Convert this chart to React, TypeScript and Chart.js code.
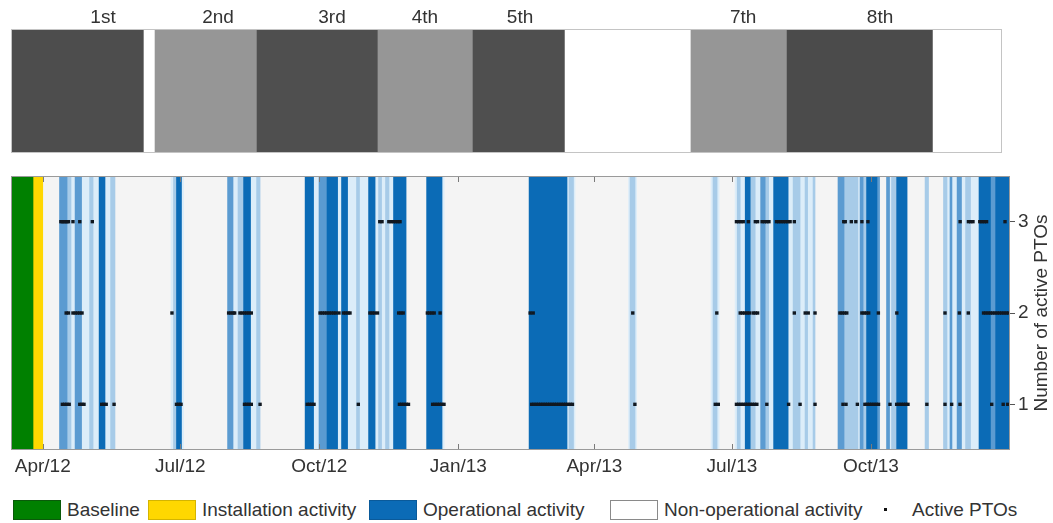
import React, { useEffect, useRef } from 'react';
import { Chart, registerables } from 'chart.js';

Chart.register(...registerables);

const FONT = '"Liberation Sans", Arial, Helvetica, sans-serif';
const TEXT = '#333333';

// time axis in days since 1 Apr 2012
const dayMin = -21;
const dayMax = 640;
const tickDays = [0, 91, 183, 275, 365, 456, 548];
const tickLabels = ['Apr/12', 'Jul/12', 'Oct/12', 'Jan/13', 'Apr/13', 'Jul/13', 'Oct/13'];

// top panel: deployments
const deployMax = 634.7;
const deployStart = [-21, 67.0, 74.3, 141.8, 221.8, 284.7, 345.6, 428.9, 492.5, 589.1];
const deployEnd = [67.0, 74.3, 141.8, 221.8, 284.7, 345.6, 428.9, 492.5, 589.1, 634.7];
const deployShade = ['#4d4d4d', '#ffffff', '#969696', '#4f4f4f', '#969696', '#4f4f4f', '#ffffff', '#969696', '#4b4b4b', '#ffffff'];
const deployLabels = ['1st', '2nd', '3rd', '4th', '5th', '7th', '8th'];
const deployLabelDays = [39.9, 116, 191.4, 252.9, 315.8, 463.4, 554];

// bottom panel: activity bands [start, end] in days
const baselineBands = [[-21, -6]];
const installBands = [[-6, 0]];
const nonOpBands = [[-21, 640]];
const darkBands = [[37.3, 41.2], [88.5, 91.8], [132.9, 137.5], [173.6, 179.2], [188.1, 195.1], [197.7, 201.7], [215.6, 219.9], [232.1, 240.4], [254.0, 264.2], [321.8, 346.9], [464.8, 468.1], [483.6, 493.2], [545.1, 552.0], [565.0, 571.9], [619.5, 627.1], [630.5, 640]];
const midBands = [[11.1, 16.1], [21.4, 25.7], [122.3, 125.9], [182.8, 188.1], [475.0, 478.0], [526.2, 530.2], [540.8, 542.8], [552.0, 553.7], [558.3, 560.3], [600.3, 601.6], [605.0, 607.9], [627.1, 630.5]];
const lightBands = [[16.1, 18.7], [31.0, 33.3], [44.9, 47.8], [86.5, 88.5], [129.2, 132.9], [141.5, 143.8], [207.6, 209.6], [222.2, 224.2], [226.8, 229.1], [348.2, 351.2], [388.6, 391.9], [443.5, 446.2], [459.5, 461.5], [468.1, 471.4], [478.0, 480.3], [496.5, 501.1], [504.4, 506.1], [509.7, 511.0], [530.2, 539.4], [542.8, 545.1], [561.6, 565.0], [583.8, 586.1], [596.0, 598.3], [610.6, 613.9]];
const paleBands = [[18.7, 21.4], [25.7, 31.0], [33.3, 37.3], [41.2, 44.9], [84.9, 86.5], [91.8, 93.2], [125.9, 129.2], [137.5, 141.5], [179.2, 182.8], [195.1, 197.7], [201.7, 207.6], [209.6, 215.6], [219.9, 222.2], [224.2, 226.8], [229.1, 232.1], [264.2, 265.6], [346.9, 348.2], [351.2, 352.2], [387.6, 388.6], [391.9, 392.9], [442.2, 443.5], [446.2, 447.5], [458.1, 459.5], [461.5, 464.8], [471.4, 474.7], [480.3, 483.6], [493.2, 496.5], [501.1, 504.4], [506.1, 509.7], [539.4, 540.8], [560.3, 561.6], [598.3, 600.3], [601.6, 605.0], [607.9, 610.6], [613.9, 619.5]];

// active PTO dots (day of observation) per count
const row1Days = [13, 14.5, 16, 17.5, 24.5, 26, 27.3, 39, 40.5, 42, 47.2, 88.5, 90, 91.5, 133.5, 135, 136.5, 138, 143.8, 175, 176.5, 178, 179.5, 208.8, 236, 237.5, 239, 240.5, 242, 258, 259.5, 261, 262.5, 264, 265.5, 323.5, 325, 326.5, 328, 329.5, 331, 332.5, 334, 335.5, 337, 338.5, 340, 341.5, 343, 344.5, 346, 347.5, 349, 350.5, 391.8, 445, 447, 459, 460.5, 462, 463.5, 465, 466.5, 468, 469.5, 471, 472.5, 479.1, 493.5, 501.1, 511, 529.5, 531.5, 539, 544, 545.5, 547, 548.5, 550, 551.5, 553, 560.6, 565, 566.5, 568, 569.5, 571, 572.5, 585, 597, 601.4, 606.9, 627.9, 635.5, 638.5];
const row2Days = [15.5, 17, 20, 21.5, 23, 24.5, 26, 85.5, 123, 124.5, 126, 127, 130.5, 132, 133.5, 135, 136.5, 138, 183.5, 185, 186.5, 188, 189.5, 191, 192.5, 194, 196, 199, 200.5, 202, 203.3, 216.5, 218, 219.5, 221.5, 235.5, 237, 238.5, 254.5, 256, 257.5, 259, 262.9, 322.5, 324.5, 390.4, 446, 461.5, 463, 464.5, 466, 467.5, 470, 471.5, 473, 497.3, 504.5, 506.5, 511, 527.5, 529, 530.5, 532, 542, 543.5, 545, 546.5, 552.9, 565.1, 597, 606.5, 612.4, 622.5, 624, 625.5, 627, 628.5, 630, 631.5, 633, 634.5, 636, 637.5, 639];
const row3Days = [12, 13, 14, 15, 16, 17, 20, 24.5, 32.8, 223, 224.5, 229, 230.5, 232, 233.5, 235, 236.4, 459, 460.5, 462, 463.5, 466.9, 471.5, 473, 476, 477.5, 479, 480.5, 485.5, 487, 488.5, 490, 491.5, 493, 494.5, 497.3, 530, 531, 535, 538, 542, 546, 607, 612.5, 614, 615.5, 620, 621.5, 623, 624.5, 636.7];
const rowTicks = [1, 2, 3];
const yTitle = 'Number of active PTOs';

// legend
const legendLabels = ['Baseline', 'Installation activity', 'Operational activity', 'Non-operational activity', 'Active PTOs'];
const legendColors = ['#008000', '#ffd700', '#0b6bb6', '#ffffff', '#111111'];
const legendBorders = ['#0a5a0a', '#d4b400', '#0a5a9a', '#8a8a8a', 'transparent'];
const legendLeft = [13, 148, 369, 610, 872];

const frame = (color: string, innerTicks: boolean) => ({
  id: 'frame',
  afterDatasetsDraw(chart: any) {
    const { ctx, chartArea } = chart;
    const { left, top, right, bottom } = chartArea;
    ctx.save();
    ctx.strokeStyle = color;
    ctx.lineWidth = 1;
    ctx.strokeRect(left + 0.5, top + 0.5, right - left - 1, bottom - top - 1);
    if (innerTicks) {
      const xs = chart.scales.x;
      ctx.strokeStyle = '#7a7a7a';
      xs.ticks.forEach((t: any) => {
        const px = Math.round(xs.getPixelForValue(t.value)) + 0.5;
        ctx.beginPath();
        ctx.moveTo(px, top + 1);
        ctx.lineTo(px, top + 6);
        ctx.moveTo(px, bottom - 1);
        ctx.lineTo(px, bottom - 6);
        ctx.stroke();
      });
    }
    ctx.restore();
  },
});

const rightTitle = {
  id: 'rightTitle',
  afterDraw(chart: any) {
    const { ctx, chartArea } = chart;
    ctx.save();
    ctx.translate(1042, (chartArea.top + chartArea.bottom) / 2);
    ctx.rotate(-Math.PI / 2);
    ctx.font = `19px ${FONT}`;
    ctx.fillStyle = TEXT;
    ctx.textAlign = 'center';
    ctx.textBaseline = 'middle';
    ctx.fillText(yTitle, 0, 0);
    ctx.restore();
  },
};

const bandSet = (label: string, bands: number[][], color: string, order: number) => ({
  type: 'bar' as const,
  label,
  indexAxis: 'y' as const,
  xAxisID: 'x',
  yAxisID: 'yc',
  grouped: false,
  categoryPercentage: 1,
  barPercentage: 1,
  borderWidth: 0,
  backgroundColor: color,
  order,
  data: bands.map((b) => ({ x: b, y: 'act' })),
});

export default function App() {
  const topRef = useRef<HTMLCanvasElement>(null);
  const botRef = useRef<HTMLCanvasElement>(null);

  useEffect(() => {
    const font = { family: FONT, size: 19 };
    const top = new Chart(topRef.current!, {
      type: 'bar',
      data: {
        datasets: [
          {
            indexAxis: 'y',
            xAxisID: 'x',
            yAxisID: 'y',
            grouped: false,
            categoryPercentage: 1,
            barPercentage: 1,
            borderWidth: 0,
            backgroundColor: deployShade,
            data: deployStart.map((s, i) => ({ x: [s, deployEnd[i]], y: 'dep' })),
          } as any,
        ],
      },
      options: {
        animation: false,
        responsive: false,
        layout: { padding: { left: 11, right: 51, top: 0, bottom: 7 } },
        plugins: { legend: { display: false }, tooltip: { enabled: false } },
        scales: {
          x: {
            type: 'linear',
            position: 'top',
            min: dayMin,
            max: deployMax,
            offset: false,
            afterBuildTicks: (s: any) => {
              s.ticks = deployLabelDays.map((v) => ({ value: v }));
            },
            afterFit: (s: any) => {
              s.height = 29;
            },
            ticks: {
              autoSkip: false,
              maxRotation: 0,
              padding: 0,
              font,
              color: TEXT,
              callback: (_v: any, i: number) => deployLabels[i],
            },
            grid: { display: false, drawTicks: false },
            border: { display: false },
          },
          y: { type: 'category', labels: ['dep'], offset: true, display: false },
        },
      } as any,
      plugins: [frame('#c4c4c4', false)],
    });

    const dots = [
      ...row1Days.map((d) => ({ x: d, y: 1 })),
      ...row2Days.map((d) => ({ x: d, y: 2 })),
      ...row3Days.map((d) => ({ x: d, y: 3 })),
    ];

    const bot = new Chart(botRef.current!, {
      type: 'bar',
      data: {
        datasets: [
          {
            type: 'scatter',
            label: 'Active PTOs',
            xAxisID: 'x',
            yAxisID: 'yv',
            data: dots,
            pointStyle: 'rect',
            pointRadius: 2.4,
            pointBorderWidth: 0,
            borderWidth: 0,
            backgroundColor: '#111820',
            order: 0,
          } as any,
          bandSet('Operational activity', darkBands, '#0b6bb6', 1),
          bandSet('Operational activity (mid)', midBands, '#5b9bd1', 2),
          bandSet('Operational activity (light)', lightBands, '#a7cbe8', 3),
          bandSet('Operational activity (pale)', paleBands, '#dcedf9', 4),
          bandSet('Installation activity', installBands, '#ffd700', 5),
          bandSet('Baseline', baselineBands, '#008000', 5),
          bandSet('Non-operational activity', nonOpBands, '#f4f4f4', 10),
        ] as any,
      },
      options: {
        animation: false,
        responsive: false,
        layout: { padding: { left: 11, right: 0, top: 16, bottom: 0 } },
        plugins: { legend: { display: false }, tooltip: { enabled: false } },
        scales: {
          x: {
            type: 'linear',
            position: 'bottom',
            min: dayMin,
            max: dayMax,
            offset: false,
            afterBuildTicks: (s: any) => {
              s.ticks = tickDays.map((v) => ({ value: v }));
            },
            afterFit: (s: any) => {
              s.height = 30;
            },
            ticks: {
              autoSkip: false,
              maxRotation: 0,
              padding: 5,
              font,
              color: TEXT,
              callback: (_v: any, i: number) => tickLabels[i],
            },
            grid: { display: false, drawTicks: false },
            border: { display: false },
          },
          yc: { type: 'category', labels: ['act'], offset: true, display: false },
          yv: {
            type: 'linear',
            position: 'right',
            min: 0.5,
            max: 3.5,
            afterBuildTicks: (s: any) => {
              s.ticks = rowTicks.map((v) => ({ value: v }));
            },
            afterFit: (s: any) => {
              s.width = 43;
            },
            ticks: { padding: 3, font, color: TEXT, callback: (v: any) => String(v) },
            grid: { drawOnChartArea: false, drawTicks: true, tickLength: 5, color: '#555555' },
            border: { display: false },
          },
        },
      } as any,
      plugins: [frame('#9a9a9a', true), rightTitle],
    });

    return () => {
      top.destroy();
      bot.destroy();
    };
  }, []);

  return (
    <div style={{ position: 'absolute', left: 0, top: 0, width: 1053, height: 523, background: '#ffffff', fontFamily: FONT }}>
      <canvas ref={topRef} width={1053} height={160} style={{ position: 'absolute', left: 0, top: 0, width: 1053, height: 160 }} />
      <canvas ref={botRef} width={1053} height={320} style={{ position: 'absolute', left: 0, top: 160, width: 1053, height: 320 }} />
      {legendLabels.map((lab, i) => {
        const isDot = i === legendLabels.length - 1;
        return (
          <div
            key={lab}
            style={{ position: 'absolute', left: legendLeft[i], top: 500, height: 20, display: 'flex', alignItems: 'center', whiteSpace: 'nowrap' }}
          >
            {isDot ? (
              <div style={{ width: 30, height: 20, position: 'relative' }}>
                <div style={{ position: 'absolute', left: 12, top: 8, width: 3, height: 3, background: legendColors[i] }} />
              </div>
            ) : (
              <div style={{ width: 46, height: 18, background: legendColors[i], border: `1px solid ${legendBorders[i]}` }} />
            )}
            <span style={{ marginLeft: isDot ? 10 : 6, fontSize: 19, color: TEXT, lineHeight: '20px' }}>{lab}</span>
          </div>
        );
      })}
    </div>
  );
}
